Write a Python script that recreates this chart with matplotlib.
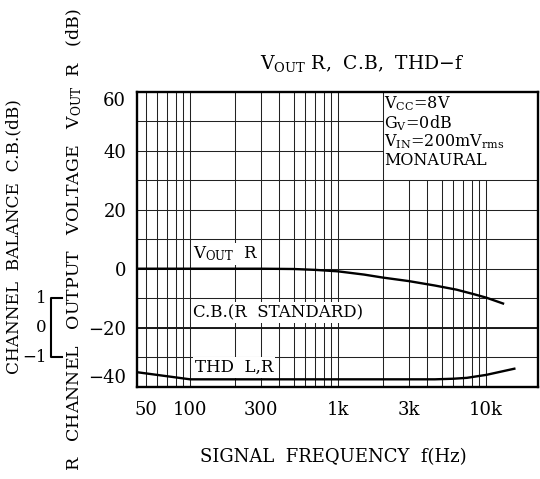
import matplotlib

matplotlib.use("Agg")
import matplotlib.pyplot as plt
import matplotlib.transforms as mtransforms

plt.rcParams["font.family"] = ["DejaVu Serif"]
plt.rcParams["mathtext.fontset"] = "dejavuserif"

# values
vout_freq = [44, 100, 300, 500, 700, 1000, 1500, 2000, 3000, 4500, 6300, 8200, 10000, 13000]
vout_db = [0, 0, 0, -0.1, -0.4, -0.9, -2.0, -3.0, -4.2, -5.7, -7.1, -8.6, -9.8, -11.8]

thd_freq = [44, 100, 4500, 6000, 7400, 10000, 15500]
thd_db = [-35.1, -37.5, -37.5, -37.3, -37.0, -36.0, -33.9]

cb_freq = [44, 22500]
cb_db = [0, 0]

x_ticks = [50, 100, 300, 1000, 3000, 10000]
x_ticklabels = ["50", "100", "300", "1k", "3k", "10k"]
y_ticks = [-40, -20, 0, 20, 40, 60]
y_ticklabels = ["−40", "−20", "0", "20", "40", "60"]
cb_ticks = [1, 0, -1]
cb_ticklabels = ["1", "0", "−1"]

conditions = [r"V$_{\mathrm{CC}}$=8V", r"G$_{\mathrm{V}}$=0dB",
              r"V$_{\mathrm{IN}}$=200mV$_{\mathrm{rms}}$", "MONAURAL"]

# C.B. is drawn on the V_OUT scale: 0 dB C.B. sits on -20, 1 dB C.B. = 10 divisions
CB_ZERO = -20
CB_SCALE = 10
NOTE_F = 2000  # condition box occupies f > 2k, level > 30 dB
NOTE_DB = 30
XMIN, XMAX = 44, 22500
YMIN, YMAX = -40, 60


def cb_to_axis(v):
    return CB_ZERO + CB_SCALE * v


fig = plt.figure(figsize=(5.4, 4.79), dpi=100)
W, H = 540, 479
left, right, top, bottom = 137.3, 538.3, 91.7, 386.7
ax = fig.add_axes([left / W, 1 - bottom / H, (right - left) / W, (bottom - top) / H])
ax.set_xscale("log")
ax.set_xlim(XMIN, XMAX)
ax.set_ylim(YMIN, YMAX)

grid_kw = dict(color="#222222", linewidth=0.75, zorder=1)
grid_freqs = [m * 10 ** e for e in (1, 2, 3) for m in range(1, 10)] + [10000]
grid_freqs = [f for f in grid_freqs if XMIN < f <= 10000]
for f in grid_freqs:
    ax.vlines(f, YMIN, NOTE_DB if f > NOTE_F else YMAX, **grid_kw)
for y in range(-30, 60, 10):
    ax.hlines(y, XMIN, NOTE_F if y > NOTE_DB else XMAX, **grid_kw)

ax.plot(vout_freq, vout_db, color="black", linewidth=1.7, zorder=3)
ax.plot(thd_freq, thd_db, color="black", linewidth=1.7, zorder=3)
ax.plot(cb_freq, [cb_to_axis(v) for v in cb_db], color="#1a1a1a", linewidth=1.4, zorder=3)

ax.set_xticks(x_ticks)
ax.set_xticklabels(x_ticklabels)
ax.set_yticks(y_ticks)
ax.set_yticklabels(y_ticklabels)
ax.minorticks_off()
ax.tick_params(axis="both", which="both", length=0, labelsize=13)
ax.tick_params(axis="x", pad=10)
ax.tick_params(axis="y", pad=8)
ylabels = ax.get_yticklabels()
ylabels[0].set_va("bottom")
ylabels[-1].set_va("top")
for spine in ax.spines.values():
    spine.set_linewidth(1.7)
    spine.set_zorder(4)

box = dict(boxstyle="square,pad=0.12", facecolor="white", edgecolor="none")
ax.text(105, 5, r"V$_{\mathrm{OUT}}$  R", fontsize=12, va="center", ha="left", bbox=box, zorder=2)
ax.text(105, -15, "C.B.(R  STANDARD)", fontsize=12, va="center", ha="left", bbox=box, zorder=2)
ax.text(108, -33.5, "THD  L,R", fontsize=12, va="center", ha="left", bbox=box, zorder=2)

for i, line in enumerate(conditions):
    ax.text(NOTE_F * 1.02, 55.8 - 6.4 * i, line, fontsize=11.5, va="center", ha="left", zorder=2)

# C.B. scale bracket to the left of the main axis
trans = mtransforms.blended_transform_factory(fig.transFigure, ax.transData)
bx0, bx1 = 51 / W, 62 / W
ax.plot([bx1, bx0, bx0, bx1], [cb_to_axis(1), cb_to_axis(1), cb_to_axis(-1), cb_to_axis(-1)],
        color="black", linewidth=1.5, transform=trans, clip_on=False)
for v, lab in zip(cb_ticks, cb_ticklabels):
    ax.text(46.5 / W, cb_to_axis(v), lab, fontsize=12, ha="right", va="center",
            transform=trans)

fig.text(362 / W, 1 - 64 / H, r"V$_{\mathrm{OUT}}$ R,  C.B,  THD−f", fontsize=13.5,
         ha="center", va="center")
fig.text(333 / W, 1 - 457 / H, "SIGNAL  FREQUENCY  f(Hz)", fontsize=13,
         ha="center", va="center")
fig.text(14 / W, 1 - 237 / H, "CHANNEL  BALANCE  C.B.(dB)", fontsize=12.2,
         rotation=90, ha="center", va="center")
fig.text(74 / W, 1 - 240 / H, r"R   CHANNEL   OUTPUT   VOLTAGE   V$_{\mathrm{OUT}}$  R   (dB)",
         fontsize=12.5, rotation=90, ha="center", va="center")

fig.savefig("out.png", dpi=100)
